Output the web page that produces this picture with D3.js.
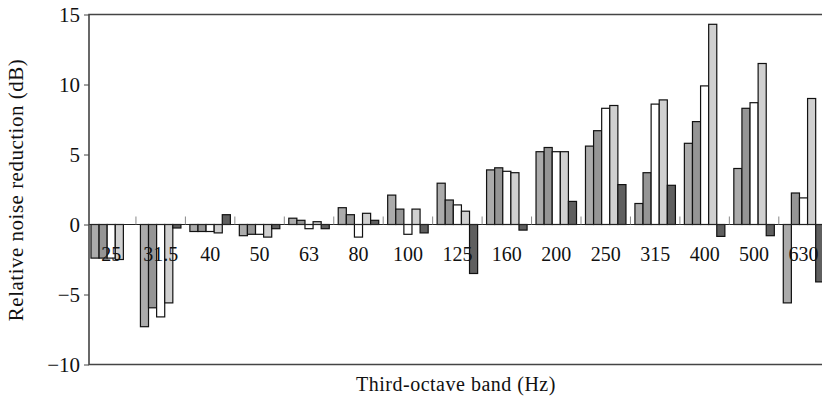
<!DOCTYPE html>
<html><head><meta charset="utf-8">
<script src="https://cdn.jsdelivr.net/npm/d3@7"></script>
<style>body{margin:0;background:#fff}svg{display:block}text{font-family:"Liberation Serif","DejaVu Serif",serif;fill:#111}</style>
</head><body><div id="chart"></div>
<script>
const categories = ["25","31.5","40","50","63","80","100","125","160","200","250","315","400","500","630"];
const s1 = [-2.4,-7.3,-0.5,-0.8,0.45,1.2,2.1,2.95,3.9,5.2,5.6,1.5,5.8,4.0,-5.6];
const s2 = [-2.4,-5.95,-0.5,-0.7,0.3,0.7,1.1,1.75,4.05,5.5,6.7,3.7,7.35,8.3,2.25];
const s3 = [-2.4,-6.6,-0.5,-0.7,-0.3,-0.9,-0.7,1.4,3.8,5.2,8.3,8.6,9.9,8.7,1.9];
const s4 = [-2.5,-5.6,-0.6,-0.9,0.2,0.8,1.1,0.95,3.7,5.2,8.5,8.9,14.3,11.5,9.0];
const s5 = [0,-0.25,0.7,-0.3,-0.3,0.3,-0.6,-3.5,-0.4,1.65,2.85,2.8,-0.85,-0.8,-4.1];
const seriesNames = ["s1","s2","s3","s4","s5"];
const seriesValues = [s1,s2,s3,s4,s5];
const seriesColors = ["#ababab","#959595","#ffffff","#d0d0d0","#5f5f5f"];
const yTicks = [-10,-5,0,5,10,15];

const W = 822, H = 398;
const mLeft = 89, mTop = 14.5, mBottom = 364.5;
const svg = d3.select("#chart").append("svg").attr("width", W).attr("height", H);

const x0 = d3.scaleBand().domain(categories).range([86.5, 86.5 + 15*49.45]);
const bw = x0.bandwidth();
const barW = 8.1;
const pad = (bw - 5*barW)/2;
const x1 = d3.scaleBand().domain(seriesNames).range([pad, bw - pad]);
const y = d3.scaleLinear().domain([-10, 15]).range([mBottom, mTop]);

const rows = [];
categories.forEach((c, i) => seriesNames.forEach((s, j) => rows.push({c, s, j, v: seriesValues[j][i]})));

// bars
svg.append("g").selectAll("rect").data(rows.filter(d => d.v !== 0)).join("rect")
  .attr("x", d => x0(d.c) + x1(d.s))
  .attr("width", x1.bandwidth())
  .attr("y", d => y(Math.max(0, d.v)))
  .attr("height", d => Math.abs(y(d.v) - y(0)))
  .attr("fill", d => seriesColors[d.j])
  .attr("stroke", "#111").attr("stroke-width", 1.2);

// zero line
svg.append("line").attr("x1", mLeft).attr("x2", W).attr("y1", y(0)).attr("y2", y(0))
  .attr("stroke", "#222").attr("stroke-width", 1);

// category boundary ticks
svg.append("g").selectAll("line").data(categories.slice(1)).join("line")
  .attr("x1", d => x0(d)).attr("x2", d => x0(d))
  .attr("y1", y(0)).attr("y2", y(0) - 8)
  .attr("stroke", "#888").attr("stroke-width", 1);

// category labels
svg.append("g").selectAll("text").data(categories).join("text")
  .attr("x", d => x0(d) + bw/2).attr("y", y(0) + 36)
  .attr("text-anchor", "middle").attr("font-size", 20).text(d => d);

// frame
svg.append("path").attr("d", `M${W},${mTop}H${mLeft}V${mBottom}H${W}`)
  .attr("fill", "none").attr("stroke", "#444").attr("stroke-width", 1.6);

// y axis
const yAxis = d3.axisLeft(y).tickValues(yTicks).tickSize(5).tickPadding(4)
  .tickFormat(d => d < 0 ? "\u2212" + Math.abs(d) : d);
const ga = svg.append("g").attr("transform", `translate(${mLeft},0)`).call(yAxis);
ga.select(".domain").remove();
ga.selectAll(".tick line").attr("stroke", "#444");
ga.selectAll(".tick text").attr("font-size", 21).attr("font-family", "Liberation Serif").attr("fill", "#111");

// titles
svg.append("text").attr("x", 456).attr("y", 391).attr("text-anchor", "middle")
  .attr("font-size", 20).attr("letter-spacing", 0.5).text("Third-octave band (Hz)");
svg.append("text").attr("transform", `translate(23,190) rotate(-90)`)
  .attr("text-anchor", "middle").attr("font-size", 21).attr("letter-spacing", 0.5).text("Relative noise reduction (dB)");
</script></body></html>
